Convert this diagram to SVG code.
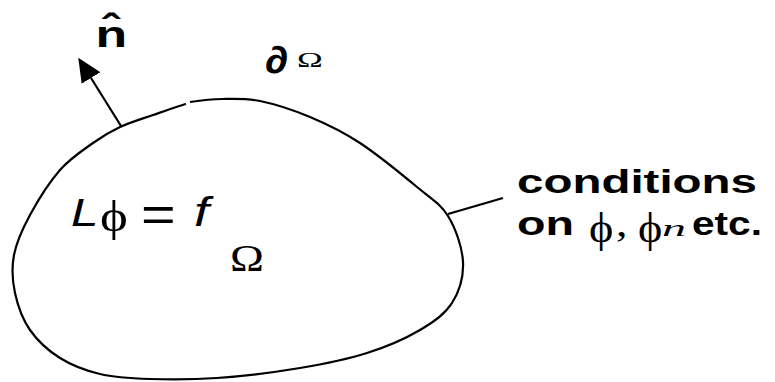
<svg xmlns="http://www.w3.org/2000/svg" width="775" height="382" viewBox="0 0 775 382">
<style>
.ln{fill:none;stroke:#000;stroke-width:2.2;stroke-linejoin:round;stroke-linecap:butt}
.sb{font-family:"Liberation Sans",Arial,sans-serif;font-weight:bold;fill:#000}
.si{font-family:"Liberation Sans",Arial,sans-serif;font-style:italic;fill:#000}
.sr{font-family:"Liberation Sans",Arial,sans-serif;fill:#000}
.se{font-family:"Liberation Serif","DejaVu Serif",serif;fill:#000}
</style>
<defs>
<marker id="ah" markerUnits="userSpaceOnUse" viewBox="0 -11 24 22" refX="0" refY="0" markerWidth="24" markerHeight="22" orient="auto">
<path d="M0,-11 L24,0 L0,11 z" fill="#000"/>
</marker>
</defs>
<g id="region">
<path class="ln" d="M190,102 C195,101.3 210.3,99.2 222,99 C233.7,98.8 245.3,98 260,101 C274.7,104 293.3,110 310,117 C326.7,124 342.2,131.3 360,143 C377.8,154.7 402.3,174.8 417,187 C431.7,199.2 440.3,203.5 448,216 C455.7,228.5 462.3,247.5 463,262 C463.7,276.5 459.2,291.7 452,303 C444.8,314.3 434.2,321.7 420,330 C405.8,338.3 387,346.7 367,353 C347,359.3 325,363.8 300,368 C275,372.2 242,376.2 217,378 C192,379.8 169.5,379.7 150,379 C130.5,378.3 115,377.5 100,374 C85,370.5 71.7,365.3 60,358 C48.3,350.7 37.5,340.8 30,330 C22.5,319.2 17.7,305.5 15,293 C12.3,280.5 11.5,268 14,255 C16.5,242 22.3,229.2 30,215 C37.7,200.8 49.5,182 60,170 C70.5,158 83,150.2 93,143 C103,135.8 110,131.7 120,127 C130,122.3 142,118.8 153,115 C164,111.2 181,105.2 186,104"/>
<g transform="translate(95.6,47) scale(1.4,1)"><text class="sb" font-size="37">n̂</text></g>
<g transform="translate(265,73) scale(1.25,1)"><text class="sb" font-size="38">∂</text></g>
<g transform="translate(297,67) scale(1.65,1)"><text class="se" font-size="21">Ω</text></g>
<g transform="translate(71,226) scale(1.3,1)"><text class="si" font-size="38">L</text></g>
<g transform="translate(100,231) scale(1.2,1)"><text class="se" font-size="44">ϕ</text></g>
<g transform="translate(141,230) scale(1.65,1.4)"><text class="sr" font-size="36" dy="0.35em" y="-12">=</text></g>
<g transform="translate(194,226) scale(1.35,1)"><text class="si" font-size="40">f</text></g>
<g transform="translate(230,271) scale(1.2,1)"><text class="se" font-size="38">Ω</text></g>
</g>
<g id="conditions">
<text class="sb" font-size="34" x="517" y="193" textLength="240" lengthAdjust="spacingAndGlyphs">conditions</text>
<text class="sb" font-size="34" x="517" y="235" textLength="57" lengthAdjust="spacingAndGlyphs">on</text>
<g transform="translate(589,242) scale(1.1,1)"><text class="se" font-size="42">ϕ</text></g>
<g transform="translate(616,236) scale(1.2,1)"><text class="se" font-size="38">,</text></g>
<g transform="translate(638,242) scale(1.1,1)"><text class="se" font-size="42">ϕ</text></g>
<g transform="translate(662,236) scale(2.0,1)"><text class="se" font-style="italic" font-size="24">n</text></g>
<text class="sb" font-size="34" x="692" y="235" textLength="70" lengthAdjust="spacingAndGlyphs">etc.</text>
</g>
<g id="connectors">
<line class="ln" x1="121" y1="126" x2="91" y2="78" marker-end="url(#ah)"/>
<line class="ln" x1="448" y1="214" x2="503" y2="198"/>
</g>
</svg>
